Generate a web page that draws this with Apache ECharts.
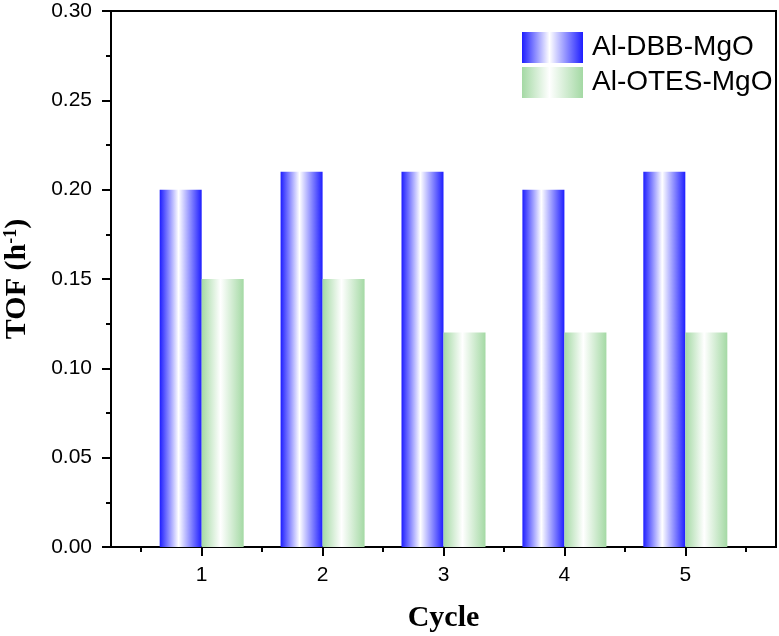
<!DOCTYPE html>
<html>
<head>
<meta charset="utf-8">
<script src="https://cdn.jsdelivr.net/npm/echarts@6/dist/echarts.min.js"></script>
<style>
  html, body { margin: 0; padding: 0; background: #fff; }
  #chart { width: 779px; height: 636px; }
</style>
</head>
<body>
<div id="chart"></div>
<script>
// data
const cycles = [1, 2, 3, 4, 5];
const dbbValues = [0.20, 0.21, 0.21, 0.20, 0.21];
const otesValues = [0.15, 0.15, 0.12, 0.12, 0.12];
const seriesNames = ["Al-DBB-MgO", "Al-OTES-MgO"];
const minorX = [0.5, 1.5, 2.5, 3.5, 4.5, 5.5];

const chart = echarts.init(document.getElementById("chart"));

function fade(edge) {
  return new echarts.graphic.LinearGradient(0, 0, 1, 0, [
    { offset: 0, color: edge },
    { offset: 0.45, color: "#ffffff" },
    { offset: 1, color: edge },
  ]);
}

const sansFont = "Liberation Sans";
const serifFont = "Liberation Serif";

let option = {
  animation: false,
  backgroundColor: "#fff",
  grid: {
    left: 111,
    right: 3,
    top: 11,
    bottom: 89,
    outerBoundsMode: "none",
    containLabel: false,
    show: true,
    borderColor: "#000",
    borderWidth: 2,
    backgroundColor: "transparent",
  },
  legend: {
    orient: "vertical",
    left: 522,
    top: 32,
    padding: 0,
    itemWidth: 61,
    itemHeight: 31,
    itemGap: 4,
    icon: "rect",
    textStyle: { fontFamily: sansFont, fontSize: 28, color: "#000", padding: [0, 0, 0, 4] },
    data: seriesNames,
  },
  xAxis: [
    {
      type: "value",
      min: 0.25,
      max: 5.75,
      splitLine: { show: false },
      axisLine: { lineStyle: { color: "#000", width: 2 } },
      axisTick: { customValues: cycles, length: 9, lineStyle: { width: 2, color: "#000" } },
      axisLabel: {
        customValues: cycles,
        margin: 18,
        fontFamily: sansFont,
        fontSize: 21,
        color: "#000",
      },
      name: "Cycle",
      nameLocation: "middle",
      nameGap: 56,
      nameTextStyle: { fontFamily: serifFont, fontWeight: "bold", fontSize: 30, color: "#000" },
    },
    {
      type: "value",
      min: 0.25,
      max: 5.75,
      position: "bottom",
      splitLine: { show: false },
      axisLine: { show: false },
      axisTick: { customValues: minorX, length: 5, lineStyle: { width: 2, color: "#000" } },
      axisLabel: { show: false },
    },
  ],
  yAxis: {
    type: "value",
    min: 0,
    max: 0.3,
    interval: 0.05,
    splitLine: { show: false },
    axisLine: { show: true, lineStyle: { color: "#000", width: 2 } },
    axisTick: { show: true, length: 9, lineStyle: { width: 2, color: "#000" } },
    minorTick: { show: true, splitNumber: 2, length: 5, lineStyle: { width: 2, color: "#000" } },
    axisLabel: {
      margin: 19,
      fontFamily: sansFont,
      fontSize: 21,
      color: "#000",
      formatter: (v) => v.toFixed(2),
    },
    name: "TOF (h{sup|-1})",
    nameLocation: "middle",
    nameGap: 79,
    nameTextStyle: {
      fontFamily: serifFont,
      fontWeight: "bold",
      fontSize: 30,
      color: "#000",
      rich: {
        sup: { fontFamily: serifFont, fontWeight: "bold", fontSize: 18, verticalAlign: "top", padding: [0, 0, 12, 0], color: "#000" },
      },
    },
  },
  series: [
    {
      name: seriesNames[0],
      type: "bar",
      xAxisIndex: 0,
      barWidth: 42,
      barGap: "0%",
      itemStyle: { color: fade("#1e1eff") },
      data: cycles.map((c, i) => [c, dbbValues[i]]),
    },
    {
      name: seriesNames[1],
      type: "bar",
      xAxisIndex: 0,
      barWidth: 42,
      barGap: "0%",
      itemStyle: { color: fade("#a4d9a4") },
      data: cycles.map((c, i) => [c, otesValues[i]]),
    },
  ],
};

chart.setOption(option);
</script>
</body>
</html>
